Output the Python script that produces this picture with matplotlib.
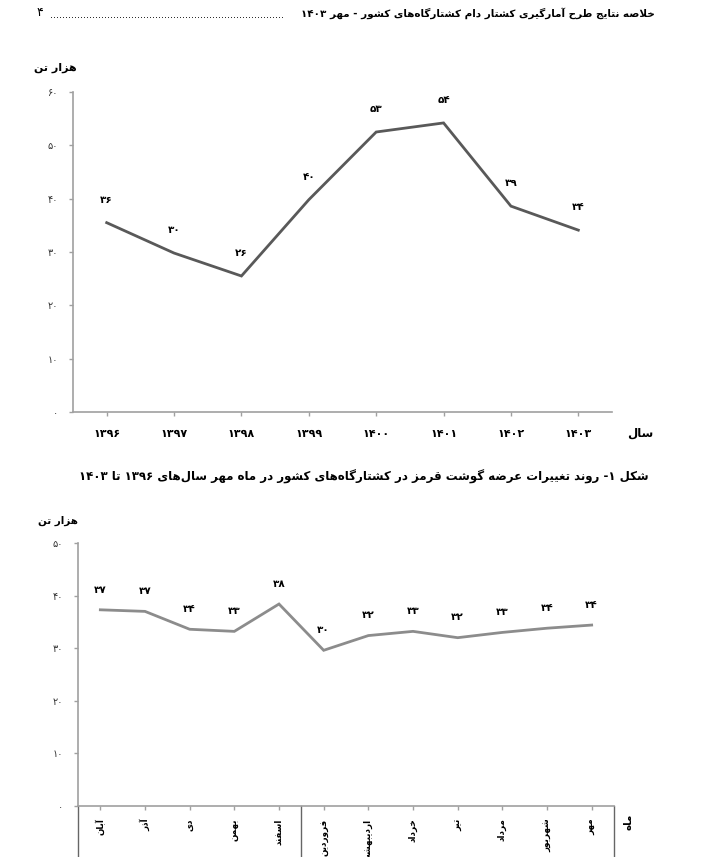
import matplotlib
matplotlib.use('Agg')
import matplotlib.pyplot as plt

plt.rcParams['font.family'] = ['DejaVu Sans']

# --- minimal Persian shaping (matplotlib does no Arabic joining / bidi) ---
# letter: (isolated, final, initial, medial); right-joining letters have no initial/medial
FORMS = {
    '\u0627': ('\uFE8D', '\uFE8E', None, None),
    '\u0622': ('\uFE81', '\uFE82', None, None),
    '\u0628': ('\uFE8F', '\uFE90', '\uFE91', '\uFE92'),
    '\u067E': ('\uFB56', '\uFB57', '\uFB58', '\uFB59'),
    '\u062A': ('\uFE95', '\uFE96', '\uFE97', '\uFE98'),
    '\u062B': ('\uFE99', '\uFE9A', '\uFE9B', '\uFE9C'),
    '\u062C': ('\uFE9D', '\uFE9E', '\uFE9F', '\uFEA0'),
    '\u0686': ('\uFB7A', '\uFB7B', '\uFB7C', '\uFB7D'),
    '\u062D': ('\uFEA1', '\uFEA2', '\uFEA3', '\uFEA4'),
    '\u062E': ('\uFEA5', '\uFEA6', '\uFEA7', '\uFEA8'),
    '\u062F': ('\uFEA9', '\uFEAA', None, None),
    '\u0630': ('\uFEAB', '\uFEAC', None, None),
    '\u0631': ('\uFEAD', '\uFEAE', None, None),
    '\u0632': ('\uFEAF', '\uFEB0', None, None),
    '\u0698': ('\uFB8A', '\uFB8B', None, None),
    '\u0633': ('\uFEB1', '\uFEB2', '\uFEB3', '\uFEB4'),
    '\u0634': ('\uFEB5', '\uFEB6', '\uFEB7', '\uFEB8'),
    '\u0635': ('\uFEB9', '\uFEBA', '\uFEBB', '\uFEBC'),
    '\u0636': ('\uFEBD', '\uFEBE', '\uFEBF', '\uFEC0'),
    '\u0637': ('\uFEC1', '\uFEC2', '\uFEC3', '\uFEC4'),
    '\u0638': ('\uFEC5', '\uFEC6', '\uFEC7', '\uFEC8'),
    '\u0639': ('\uFEC9', '\uFECA', '\uFECB', '\uFECC'),
    '\u063A': ('\uFECD', '\uFECE', '\uFECF', '\uFED0'),
    '\u0641': ('\uFED1', '\uFED2', '\uFED3', '\uFED4'),
    '\u0642': ('\uFED5', '\uFED6', '\uFED7', '\uFED8'),
    '\u06A9': ('\uFB8E', '\uFB8F', '\uFB90', '\uFB91'),
    '\u06AF': ('\uFB92', '\uFB93', '\uFB94', '\uFB95'),
    '\u0644': ('\uFEDD', '\uFEDE', '\uFEDF', '\uFEE0'),
    '\u0645': ('\uFEE1', '\uFEE2', '\uFEE3', '\uFEE4'),
    '\u0646': ('\uFEE5', '\uFEE6', '\uFEE7', '\uFEE8'),
    '\u0648': ('\uFEED', '\uFEEE', None, None),
    '\u0647': ('\uFEE9', '\uFEEA', '\uFEEB', '\uFEEC'),
    '\u06CC': ('\uFBFC', '\uFBFD', '\uFBFE', '\uFBFF'),
    '\u0626': ('\uFE89', '\uFE8A', '\uFE8B', '\uFE8C'),
}
LAM_ALEF = {'\u0627': ('\uFEFB', '\uFEFC'), '\u0622': ('\uFEF5', '\uFEF6')}
DIGITS = set('0123456789\u06F0\u06F1\u06F2\u06F3\u06F4\u06F5\u06F6\u06F7\u06F8\u06F9')


def fa(text):
    # join letters
    chars = list(text)
    out = []
    i = 0
    n = len(chars)
    while i < n:
        c = chars[i]
        prev = chars[i - 1] if i > 0 else ''
        prev_joins = prev in FORMS and FORMS[prev][2] is not None
        if c == '\u0644' and i + 1 < n and chars[i + 1] in LAM_ALEF:
            lig = LAM_ALEF[chars[i + 1]]
            out.append(lig[1] if prev_joins else lig[0])
            i += 2
            continue
        if c in FORMS:
            f = FORMS[c]
            nxt = chars[i + 1] if i + 1 < n else ''
            next_joins = nxt in FORMS and f[2] is not None
            if prev_joins and next_joins:
                out.append(f[3])
            elif prev_joins:
                out.append(f[1])
            elif next_joins:
                out.append(f[2])
            else:
                out.append(f[0])
        elif c != '\u200c':
            out.append(c)
        i += 1
    # visual order: reverse, keep digit runs left-to-right
    runs = []
    for ch in out:
        if ch in DIGITS and runs and runs[-1][0] in DIGITS:
            runs[-1] += ch
        else:
            runs.append(ch)
    return ''.join(reversed(runs))


def fa_num(v):
    return str(v).translate(str.maketrans('0123456789', '۰۱۲۳۴۵۶۷۸۹'))


# --- data ---
years = ['۱۳۹۶', '۱۳۹۷', '۱۳۹۸', '۱۳۹۹', '۱۴۰۰', '۱۴۰۱', '۱۴۰۲', '۱۴۰۳']
supply_year = [35.5, 29.8, 25.5, 39.8, 52.5, 54.2, 38.6, 34.1]
labels_year = [36, 30, 26, 40, 53, 54, 39, 34]

months = ['آبان', 'آذر', 'دی', 'بهمن', 'اسفند', 'فروردین', 'اردیبهشت',
          'خرداد', 'تیر', 'مرداد', 'شهریور', 'مهر']
supply_month = [37.3, 37.0, 33.6, 33.2, 38.4, 29.6, 32.4, 33.2, 32.0, 33.0, 33.8, 34.4]
labels_month = [37, 37, 34, 33, 38, 30, 32, 33, 32, 33, 34, 34]

axis_gray = '#a0a0a0'

fig = plt.figure(figsize=(7.1, 8.57), dpi=100)

# header
fig.text(655 / 710, 1 - 13 / 857,
         fa('خلاصه نتایج طرح آمارگیری کشتار دام کشتارگاه\u200cهای کشور - مهر ۱۴۰۳'),
         ha='right', va='center', fontsize=7.5, fontweight='bold')
fig.text(50 / 710, 1 - 15 / 857, '.' * 78, ha='left', va='center', fontsize=7)
fig.text(40 / 710, 1 - 12 / 857, '۴', ha='center', va='center', fontsize=9)


def style_axes(ax):
    for s in ['top', 'right']:
        ax.spines[s].set_visible(False)
    for s in ['left', 'bottom']:
        ax.spines[s].set_color(axis_gray)
        ax.spines[s].set_linewidth(1.2)
    ax.tick_params(axis='both', colors=axis_gray, length=3, width=1)
    ax.tick_params(axis='y', labelcolor='#333333', labelsize=7, pad=8)


# --- chart 1: by year ---
ax1 = fig.add_axes([73 / 710, 1 - 412 / 857, 539 / 710, 320 / 857])
x1 = range(len(years))
ax1.plot(x1, supply_year, color='#595959', lw=2.0, solid_joinstyle='miter')
for i, v in enumerate(supply_year):
    ax1.annotate(fa_num(labels_year[i]), (i, v), xytext=(0, 13), textcoords='offset points',
                 ha='center', va='bottom', fontsize=7.5, fontweight='bold')
ax1.set_xlim(-0.5, len(years) - 0.5)
ax1.set_ylim(0, 60)
ax1.set_yticks(range(0, 61, 10))
ax1.set_yticklabels([fa_num(t) for t in range(0, 61, 10)])
ax1.set_xticks(list(x1))
ax1.set_xticklabels(years, fontsize=8, fontweight='bold', color='black')
ax1.tick_params(axis='x', pad=9)
style_axes(ax1)
ax1.tick_params(axis='x', labelcolor='black')
fig.text(55 / 710, 1 - 68 / 857, fa('هزار تن'), ha='center', va='center',
         fontsize=8, fontweight='bold')
fig.text(640 / 710, 1 - 433 / 857, fa('سال'), ha='center', va='center',
         fontsize=8.5, fontweight='bold')

# caption
fig.text(364 / 710, 1 - 477 / 857,
         fa('شکل ۱- روند تغییرات عرضه گوشت قرمز در کشتارگاه\u200cهای کشور در ماه مهر سال\u200cهای ۱۳۹۶ تا ۱۴۰۳'),
         ha='center', va='center', fontsize=8.5, fontweight='bold')

# --- chart 2: by month ---
ax2 = fig.add_axes([78 / 710, 1 - 806 / 857, 536 / 710, 263 / 857])
x2 = range(len(months))
ax2.plot(x2, supply_month, color='#8c8c8c', lw=2.0, solid_joinstyle='miter')
for i, v in enumerate(supply_month):
    ax2.annotate(fa_num(labels_month[i]), (i, v), xytext=(0, 11), textcoords='offset points',
                 ha='center', va='bottom', fontsize=7.5, fontweight='bold')
ax2.set_xlim(-0.5, len(months) - 0.5)
ax2.set_ylim(0, 50)
ax2.set_yticks(range(0, 51, 10))
ax2.set_yticklabels([fa_num(t) for t in range(0, 51, 10)])
ax2.set_xticks(list(x2))
ax2.set_xticklabels([fa(m) for m in months], rotation=90, va='top', ha='center',
                    fontsize=6.3, fontweight='bold')
ax2.tick_params(axis='x', pad=6)
style_axes(ax2)
ax2.tick_params(axis='x', labelcolor='black')
# group separators below the month axis
for xs in [-0.5, 4.5, len(months) - 0.5]:
    ax2.plot([xs, xs], [0, -0.4], transform=ax2.get_xaxis_transform(),
             color='#666666', lw=1, clip_on=False)
fig.text(58 / 710, 1 - 521 / 857, fa('هزار تن'), ha='center', va='center',
         fontsize=7.5, fontweight='bold')
fig.text(628 / 710, 1 - 822 / 857, fa('ماه'), ha='center', va='center',
         fontsize=7.5, fontweight='bold', rotation=90)

fig.savefig('out.png', dpi=100)
